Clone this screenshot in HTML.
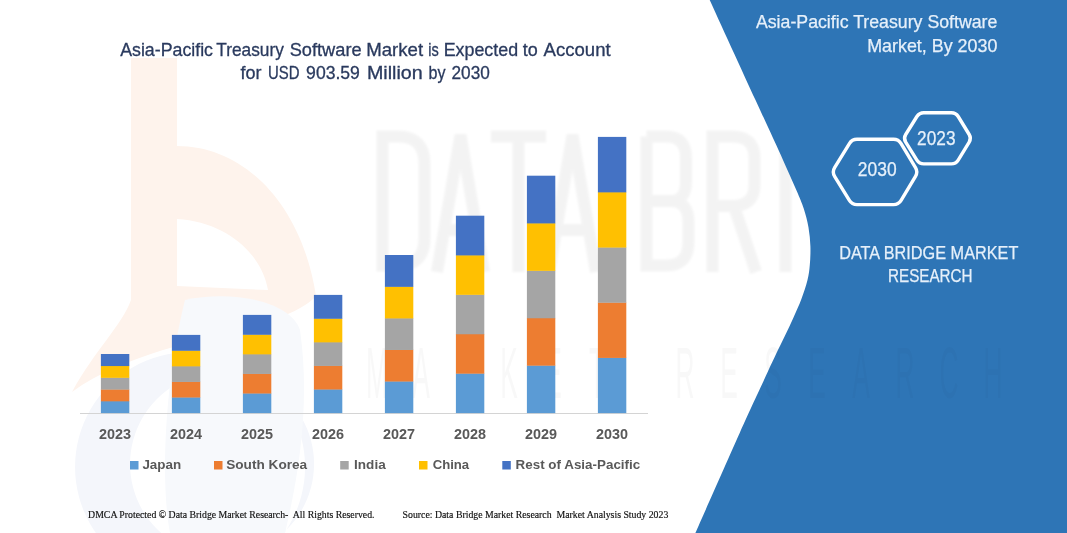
<!DOCTYPE html>
<html><head><meta charset="utf-8">
<style>
html,body{margin:0;padding:0;background:#fff;}
body{width:1067px;height:533px;overflow:hidden;font-family:"Liberation Sans",sans-serif;}
svg{display:block;}
.t{font-family:"Liberation Sans",sans-serif;}
.s{font-family:"Liberation Serif",serif;}
</style></head><body>
<svg width="1067" height="533" viewBox="0 0 1067 533" style="opacity:0.999;will-change:transform">
<rect width="1067" height="533" fill="#fff"/>
<!-- watermark -->
<g id="wm">
<defs><clipPath id="pc"><path d="M709.7,0.0 C717.3,16.7 744.0,75.0 755.5,100.0 C767.0,125.0 771.7,135.0 778.5,150.0 C785.3,165.0 792.1,180.2 796.3,190.0 C800.5,199.8 801.8,202.6 803.8,208.8 C805.8,215.1 807.4,221.2 808.5,227.5 C809.6,233.8 810.2,240.1 810.4,246.3 C810.6,252.6 810.3,259.4 809.8,265.0 C809.3,270.6 808.9,274.4 807.5,280.0 C806.1,285.6 803.8,292.6 801.5,298.8 C799.2,305.1 796.3,311.2 793.5,317.5 C790.7,323.8 787.7,330.1 784.7,336.3 C781.7,342.6 779.1,347.7 775.6,355.0 C772.1,362.3 770.0,367.0 764.0,380.0 C758.0,393.0 751.1,407.5 739.7,433.0 C728.3,458.5 702.8,516.3 695.4,533.0 L1067,533 L1067,0 Z"/></clipPath><filter id="bl" x="-5%" y="-5%" width="110%" height="110%"><feGaussianBlur stdDeviation="1.2"/></filter></defs>
<g fill="none" stroke="#808080" stroke-width="12" opacity="0.085" filter="url(#bl)">
<path transform="translate(376,130)" d="M6.5,6.5 V135.5 H22 Q48.5,135.5 48.5,108 V34 Q48.5,6.5 22,6.5 Z"/>
<path transform="translate(433,130)" d="M4,142 L27.5,5 L51,142 M12,100 H43"/>
<path transform="translate(491,130)" d="M0,6.5 H55 M27.5,6.5 V142"/>
<path transform="translate(545,130)" d="M4,142 L27.5,5 L51,142 M12,100 H43"/>
<path transform="translate(640,130)" d="M6.5,6.5 V135.5 H26 Q48.5,135.5 48.5,112 V92 Q48.5,71 30,71 H6.5 M30,71 Q46,71 46,52 V28 Q46,6.5 26,6.5 H6.5"/>
<path transform="translate(706,130)" d="M6.5,142 V6.5 H26 Q48.5,6.5 48.5,28 V55 Q48.5,76 26,76 H6.5 M28,76 L50,142"/>
<path transform="translate(779,130)" d="M6.5,0 V142"/>
<path transform="translate(812,130)" d="M6.5,6.5 V135.5 H22 Q48.5,135.5 48.5,108 V34 Q48.5,6.5 22,6.5 Z"/>
<path transform="translate(878,130)" d="M48.5,42 V32 Q48.5,6.5 27.5,6.5 Q6.5,6.5 6.5,32 V110 Q6.5,135.5 27.5,135.5 Q48.5,135.5 48.5,110 V76 H28"/>
<path transform="translate(944,130)" d="M48,6.5 H6.5 V135.5 H48 M6.5,71 H42"/>
</g>

<path fill-rule="evenodd" d="M131,58 L177,58 L177,146 C245,146 302,205 316,296 C280,335 150,335 72,392 C95,350 122,325 131,300 Z M177,219 C228,222 262,255 268,290 L177,286 Z" fill="#FEF3EC"/>
<path fill-rule="evenodd" fill="#F4F6FB" d="M190,352 a115,115 0 1,0 0.1,0 Z M222,372 a92,92 0 1,0 0.1,0 Z"/>
<path fill="#F7F9FC" d="M185,300 C230,290 290,300 300,330 C310,400 300,470 285,533 L170,533 C160,480 165,380 185,300 Z"/>
<g class="t" fill="#7f7f7f" opacity="0.05" font-size="73" text-anchor="middle">
<text transform="translate(377,398) scale(0.36,1)">M</text><text transform="translate(421,398) scale(0.36,1)">A</text><text transform="translate(465,398) scale(0.36,1)">R</text><text transform="translate(509,398) scale(0.36,1)">K</text><text transform="translate(553,398) scale(0.36,1)">E</text><text transform="translate(597,398) scale(0.36,1)">T</text><text transform="translate(685,398) scale(0.36,1)">R</text><text transform="translate(729,398) scale(0.36,1)">E</text><text transform="translate(773,398) scale(0.36,1)">S</text><text transform="translate(817,398) scale(0.36,1)">E</text><text transform="translate(861,398) scale(0.36,1)">A</text><text transform="translate(905,398) scale(0.36,1)">R</text><text transform="translate(949,398) scale(0.36,1)">C</text><text transform="translate(993,398) scale(0.36,1)">H</text>
</g>
</g>
<!-- blue panel -->
<path d="M709.7,0.0 C717.3,16.7 744.0,75.0 755.5,100.0 C767.0,125.0 771.7,135.0 778.5,150.0 C785.3,165.0 792.1,180.2 796.3,190.0 C800.5,199.8 801.8,202.6 803.8,208.8 C805.8,215.1 807.4,221.2 808.5,227.5 C809.6,233.8 810.2,240.1 810.4,246.3 C810.6,252.6 810.3,259.4 809.8,265.0 C809.3,270.6 808.9,274.4 807.5,280.0 C806.1,285.6 803.8,292.6 801.5,298.8 C799.2,305.1 796.3,311.2 793.5,317.5 C790.7,323.8 787.7,330.1 784.7,336.3 C781.7,342.6 779.1,347.7 775.6,355.0 C772.1,362.3 770.0,367.0 764.0,380.0 C758.0,393.0 751.1,407.5 739.7,433.0 C728.3,458.5 702.8,516.3 695.4,533.0 L1067,533 L1067,0 Z" fill="#2E75B6"/>
<g clip-path="url(#pc)"><g class="t" fill="#000" opacity="0.02" font-size="73" text-anchor="middle">
<text transform="translate(377,398) scale(0.36,1)">M</text><text transform="translate(421,398) scale(0.36,1)">A</text><text transform="translate(465,398) scale(0.36,1)">R</text><text transform="translate(509,398) scale(0.36,1)">K</text><text transform="translate(553,398) scale(0.36,1)">E</text><text transform="translate(597,398) scale(0.36,1)">T</text><text transform="translate(685,398) scale(0.36,1)">R</text><text transform="translate(729,398) scale(0.36,1)">E</text><text transform="translate(773,398) scale(0.36,1)">S</text><text transform="translate(817,398) scale(0.36,1)">E</text><text transform="translate(861,398) scale(0.36,1)">A</text><text transform="translate(905,398) scale(0.36,1)">R</text><text transform="translate(949,398) scale(0.36,1)">C</text><text transform="translate(993,398) scale(0.36,1)">H</text>
</g>
</g>
<!-- axis -->
<rect x="80" y="413" width="568" height="1" fill="#D4D4D4"/>
<!-- bars -->
<g id="bars">
<rect x="100.9" y="401.04" width="28.4" height="12.06" fill="#5B9BD5"/><rect x="100.9" y="389.28" width="28.4" height="12.06" fill="#ED7D31"/><rect x="100.9" y="377.52" width="28.4" height="12.06" fill="#A5A5A5"/><rect x="100.9" y="365.76" width="28.4" height="12.06" fill="#FFC000"/><rect x="100.9" y="354.00" width="28.4" height="12.06" fill="#4472C4"/>
<rect x="171.9" y="397.22" width="28.4" height="15.88" fill="#5B9BD5"/><rect x="171.9" y="381.64" width="28.4" height="15.88" fill="#ED7D31"/><rect x="171.9" y="366.06" width="28.4" height="15.88" fill="#A5A5A5"/><rect x="171.9" y="350.48" width="28.4" height="15.88" fill="#FFC000"/><rect x="171.9" y="334.90" width="28.4" height="15.88" fill="#4472C4"/>
<rect x="242.9" y="393.22" width="28.4" height="19.88" fill="#5B9BD5"/><rect x="242.9" y="373.64" width="28.4" height="19.88" fill="#ED7D31"/><rect x="242.9" y="354.06" width="28.4" height="19.88" fill="#A5A5A5"/><rect x="242.9" y="334.48" width="28.4" height="19.88" fill="#FFC000"/><rect x="242.9" y="314.90" width="28.4" height="19.88" fill="#4472C4"/>
<rect x="313.9" y="389.22" width="28.4" height="23.88" fill="#5B9BD5"/><rect x="313.9" y="365.64" width="28.4" height="23.88" fill="#ED7D31"/><rect x="313.9" y="342.06" width="28.4" height="23.88" fill="#A5A5A5"/><rect x="313.9" y="318.48" width="28.4" height="23.88" fill="#FFC000"/><rect x="313.9" y="294.90" width="28.4" height="23.88" fill="#4472C4"/>
<rect x="384.9" y="381.24" width="28.4" height="31.86" fill="#5B9BD5"/><rect x="384.9" y="349.68" width="28.4" height="31.86" fill="#ED7D31"/><rect x="384.9" y="318.12" width="28.4" height="31.86" fill="#A5A5A5"/><rect x="384.9" y="286.56" width="28.4" height="31.86" fill="#FFC000"/><rect x="384.9" y="255.00" width="28.4" height="31.86" fill="#4472C4"/>
<rect x="455.9" y="373.38" width="28.4" height="39.72" fill="#5B9BD5"/><rect x="455.9" y="333.96" width="28.4" height="39.72" fill="#ED7D31"/><rect x="455.9" y="294.54" width="28.4" height="39.72" fill="#A5A5A5"/><rect x="455.9" y="255.12" width="28.4" height="39.72" fill="#FFC000"/><rect x="455.9" y="215.70" width="28.4" height="39.72" fill="#4472C4"/>
<rect x="526.9" y="365.38" width="28.4" height="47.72" fill="#5B9BD5"/><rect x="526.9" y="317.96" width="28.4" height="47.72" fill="#ED7D31"/><rect x="526.9" y="270.54" width="28.4" height="47.72" fill="#A5A5A5"/><rect x="526.9" y="223.12" width="28.4" height="47.72" fill="#FFC000"/><rect x="526.9" y="175.70" width="28.4" height="47.72" fill="#4472C4"/>
<rect x="597.9" y="357.62" width="28.4" height="55.48" fill="#5B9BD5"/><rect x="597.9" y="302.44" width="28.4" height="55.48" fill="#ED7D31"/><rect x="597.9" y="247.26" width="28.4" height="55.48" fill="#A5A5A5"/><rect x="597.9" y="192.08" width="28.4" height="55.48" fill="#FFC000"/><rect x="597.9" y="136.90" width="28.4" height="55.48" fill="#4472C4"/>
</g>
<!-- title -->
<g class="t" fill="#2A3A5E" font-size="17.8" stroke="#2A3A5E" stroke-width="0.3">
<text x="120.2" y="55.7" textLength="92.8" lengthAdjust="spacingAndGlyphs">Asia-Pacific</text>
<text x="216.3" y="55.7" textLength="67.5" lengthAdjust="spacingAndGlyphs">Treasury</text>
<text x="289.7" y="55.7" textLength="71.9" lengthAdjust="spacingAndGlyphs">Software</text>
<text x="366.2" y="55.7" textLength="56.9" lengthAdjust="spacingAndGlyphs">Market</text>
<text x="428.2" y="55.7" textLength="10.5" lengthAdjust="spacingAndGlyphs">is</text>
<text x="443.7" y="55.7" textLength="74.4" lengthAdjust="spacingAndGlyphs">Expected</text>
<text x="522.7" y="55.7" textLength="15.0" lengthAdjust="spacingAndGlyphs">to</text>
<text x="543.6" y="55.7" textLength="67.0" lengthAdjust="spacingAndGlyphs">Account</text>
<text x="240.5" y="79.3" textLength="21.0" lengthAdjust="spacingAndGlyphs">for</text>
<text x="268.1" y="79.3" textLength="31.5" lengthAdjust="spacingAndGlyphs">USD</text>
<text x="306.1" y="79.3" textLength="53.8" lengthAdjust="spacingAndGlyphs">903.59</text>
<text x="366.9" y="79.3" textLength="55.8" lengthAdjust="spacingAndGlyphs">Million</text>
<text x="428.6" y="79.3" textLength="17.0" lengthAdjust="spacingAndGlyphs">by</text>
<text x="451.5" y="79.3" textLength="38.3" lengthAdjust="spacingAndGlyphs">2030</text>
</g>
<!-- year labels -->
<g class="t" fill="#595959" font-size="14.4" font-weight="700" text-anchor="middle">
<text x="115" y="438.8">2023</text><text x="186" y="438.8">2024</text><text x="257" y="438.8">2025</text><text x="328" y="438.8">2026</text>
<text x="399" y="438.8">2027</text><text x="470" y="438.8">2028</text><text x="541" y="438.8">2029</text><text x="612" y="438.8">2030</text>
</g>
<!-- legend -->
<g class="t" fill="#595959" font-size="13.5" font-weight="700">
<rect x="130" y="461" width="8.5" height="8.5" fill="#5B9BD5"/><text x="142.4" y="469.2" textLength="38.8" lengthAdjust="spacingAndGlyphs">Japan</text>
<rect x="214" y="461" width="8.5" height="8.5" fill="#ED7D31"/><text x="226.2" y="469.2" textLength="81" lengthAdjust="spacingAndGlyphs">South Korea</text>
<rect x="340.2" y="461" width="8.5" height="8.5" fill="#A5A5A5"/><text x="354.1" y="469.2" textLength="31.6" lengthAdjust="spacingAndGlyphs">India</text>
<rect x="419" y="461" width="8.5" height="8.5" fill="#FFC000"/><text x="432.7" y="469.2" textLength="36.5" lengthAdjust="spacingAndGlyphs">China</text>
<rect x="502.3" y="461" width="8.5" height="8.5" fill="#4472C4"/><text x="515.6" y="469.2" textLength="124.6" lengthAdjust="spacingAndGlyphs">Rest of Asia-Pacific</text>
</g>
<!-- footer -->
<g class="s" fill="#111" font-size="9.3" stroke="#111" stroke-width="0.15">
<text x="88.1" y="517.8" textLength="286.4" lengthAdjust="spacingAndGlyphs" xml:space="preserve">DMCA Protected © Data Bridge Market Research-  All Rights Reserved.</text>
<text x="402.6" y="517.8" textLength="265.7" lengthAdjust="spacingAndGlyphs" xml:space="preserve">Source: Data Bridge Market Research  Market Analysis Study 2023</text>
</g>
<!-- right panel text -->
<g class="t" fill="#E6F0FA" font-size="17.8" stroke="#E6F0FA" stroke-width="0.25">
<text x="755.9" y="28.2" textLength="241.5" lengthAdjust="spacingAndGlyphs">Asia-Pacific Treasury Software</text>
<text x="867.2" y="51.5" textLength="130.2" lengthAdjust="spacingAndGlyphs">Market, By 2030</text>
<text x="839.2" y="258.9" textLength="179.2" lengthAdjust="spacingAndGlyphs">DATA BRIDGE MARKET</text>
<text x="888" y="282.2" textLength="84.6" lengthAdjust="spacingAndGlyphs">RESEARCH</text>
</g>
<!-- hexagons -->
<g fill="none" stroke="#fff" stroke-width="3.4" stroke-linejoin="round">
<path d="M834.6,176.3 Q832.0,172.0 834.6,167.7 L849.4,143.6 Q852.0,139.3 857.0,139.3 L893.5,139.3 Q898.5,139.3 901.1,143.6 L915.5,167.7 Q918.1,172.0 915.5,176.3 L901.1,200.3 Q898.5,204.6 893.5,204.6 L857.0,204.6 Q852.0,204.6 849.4,200.3 Z"/>
<path d="M905.7,142.1 Q903.3,138.3 905.7,134.5 L916.9,116.5 Q919.3,112.7 923.8,112.7 L951.4,112.7 Q955.9,112.7 958.2,116.5 L969.2,134.5 Q971.5,138.3 969.2,142.1 L958.2,160.1 Q955.9,163.9 951.4,163.9 L923.8,163.9 Q919.3,163.9 916.9,160.1 Z"/>
</g>
<g class="t" fill="#E6F0FA" font-size="19.4" stroke="#E6F0FA" stroke-width="0.25">
<text x="857.8" y="175.9" textLength="38.8" lengthAdjust="spacingAndGlyphs">2030</text>
<text x="917.1" y="144.9" textLength="38.4" lengthAdjust="spacingAndGlyphs">2023</text>
</g>
</svg>
</body></html>
